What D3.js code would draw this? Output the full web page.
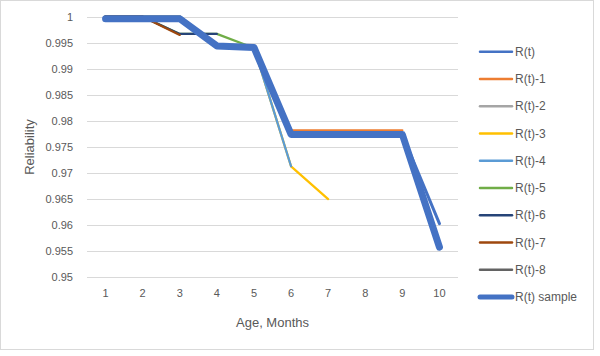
<!DOCTYPE html>
<html>
<head>
<meta charset="utf-8">
<script src="https://cdn.jsdelivr.net/npm/d3@7"></script>
<style>
  body { margin: 0; background: #fff; }
  svg { display: block; }
  text { font-family: "Liberation Sans", Arial, sans-serif; fill: #595959; }
</style>
</head>
<body>
<svg id="chart" width="600" height="356"></svg>
<script>
// ---- data ----
const months = [1, 2, 3, 4, 5, 6, 7, 8, 9, 10];
const yTicks = [0.95, 0.955, 0.96, 0.965, 0.97, 0.975, 0.98, 0.985, 0.99, 0.995, 1];
const seriesNames = ["R(t)", "R(t)-1", "R(t)-2", "R(t)-3", "R(t)-4", "R(t)-5", "R(t)-6", "R(t)-7", "R(t)-8", "R(t) sample"];
const rt       = [1, 1, 1, 0.9944, 0.9941, 0.9774, 0.9774, 0.9774, 0.9774, 0.9603];
const rt1      = [1, 1, 1, 0.9944, 0.9941, 0.9782, 0.9782, 0.9782, 0.9782];
const rt2      = [1, 1, 1, 0.9944, 0.9941, 0.9774, 0.9774, 0.9774];
const rt3      = [1, 1, 1, 0.9944, 0.9941, 0.9713, 0.9650];
const rt4      = [1, 1, 1, 0.9944, 0.9941, 0.9713];
const rt5      = [1, 1, 0.9967, 0.9967, 0.9940];
const rt6      = [1, 1, 0.9967, 0.9967];
const rt7      = [1, 1, 0.9965];
const rt8      = [1, 1];
const rtSample = [0.9996, 0.9996, 0.9996, 0.9944, 0.9941, 0.9774, 0.9774, 0.9774, 0.9774, 0.9558];
const seriesValues = [rt, rt1, rt2, rt3, rt4, rt5, rt6, rt7, rt8, rtSample];
const colors = ["#4472C4", "#ED7D31", "#A5A5A5", "#FFC000", "#5B9BD5", "#70AD47", "#264478", "#9E480E", "#636363", "#4472C4"];
const widths = [3, 2.25, 2.25, 2.25, 2.25, 2.25, 2.25, 2.25, 2.25, 7];

// ---- layout ----
const svg = d3.select("#chart");
const plot = { left: 87, right: 458, top: 16.7, bottom: 277.3 };

svg.append("rect").attr("x", 0.5).attr("y", 0.5).attr("width", 593).attr("height", 349)
  .attr("fill", "#fff").attr("stroke", "#d9d9d9").attr("stroke-width", 1);

const x = d3.scaleBand().domain(months).range([plot.left, plot.right]);
const y = d3.scaleLinear().domain([0.95, 1]).range([plot.bottom, plot.top]);
const cx = m => x(m) + x.bandwidth() / 2;

// gridlines
svg.append("g").selectAll("line").data(yTicks).join("line")
  .attr("x1", plot.left).attr("x2", plot.right)
  .attr("y1", d => Math.round(y(d)) + 0.5).attr("y2", d => Math.round(y(d)) + 0.5)
  .attr("stroke", "#d9d9d9").attr("stroke-width", 1);

// y axis labels
const yAxis = d3.axisLeft(y).tickValues(yTicks).tickSize(0).tickPadding(0)
  .tickFormat(d => d3.format("")(+d.toFixed(3)));
const gy = svg.append("g").attr("transform", `translate(${plot.left - 14},0)`).call(yAxis);
gy.select(".domain").remove();
gy.selectAll("text").style("font-size", "11px").style("fill", "#595959")
  .style("font-family", '"Liberation Sans", Arial, sans-serif');

// x axis labels
const xAxis = d3.axisBottom(x).tickSize(0).tickPadding(0);
const gx = svg.append("g").attr("transform", `translate(0,${plot.bottom + 12})`).call(xAxis);
gx.select(".domain").remove();
gx.selectAll("text").style("font-size", "11px").style("fill", "#595959")
  .style("font-family", '"Liberation Sans", Arial, sans-serif');

// axis titles
svg.append("text").attr("x", (plot.left + plot.right) / 2).attr("y", 327)
  .attr("text-anchor", "middle").style("font-size", "13px").text("Age,  Months");
svg.append("text").attr("transform", `translate(34,${(plot.top + plot.bottom) / 2}) rotate(-90)`)
  .attr("text-anchor", "middle").style("font-size", "13px").text("Reliability");

// lines
const line = d3.line().x((d, i) => cx(months[i])).y(d => y(d));
svg.append("g").selectAll("path").data(seriesValues).join("path")
  .attr("d", d => line(d))
  .attr("fill", "none")
  .attr("stroke", (d, i) => colors[i])
  .attr("stroke-width", (d, i) => widths[i])
  .attr("stroke-linejoin", "round")
  .attr("stroke-linecap", "round");

// legend
const legY = d3.scalePoint().domain(seriesNames).range([51.7, 297]);
const leg = svg.append("g").selectAll("g").data(seriesNames).join("g")
  .attr("transform", d => `translate(480,${legY(d)})`);
leg.append("line").attr("x1", 0).attr("x2", 32).attr("y1", 0).attr("y2", 0)
  .attr("stroke", (d, i) => colors[i])
  .attr("stroke-width", (d, i) => i === 9 ? 5 : 2.5)
  .attr("stroke-linecap", "round");
leg.append("text").attr("x", 35).attr("y", 0).attr("dy", "0.35em")
  .style("font-size", "12px").text(d => d);
</script>
</body>
</html>
